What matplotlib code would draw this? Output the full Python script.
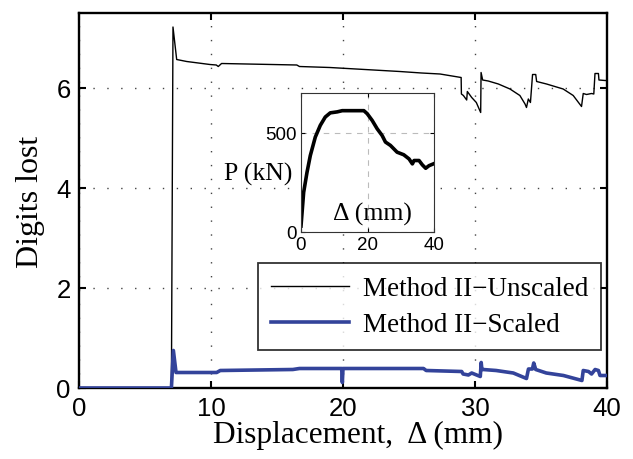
import matplotlib
matplotlib.use("Agg")
import matplotlib.pyplot as plt
from matplotlib.lines import Line2D

# ---- data ----
unscaled_x = [0, 7.0, 7.12, 7.4, 8.16, 9.92, 10.4, 10.55, 10.8, 16.5, 16.7, 19.0, 24.3, 25.95,
              27.35, 28.95, 28.97, 29.12, 29.37, 29.42, 29.75, 30.1, 30.43, 30.46, 30.58, 31.0,
              31.77, 32.65, 33.4, 33.79, 33.9, 34.04, 34.2, 34.36, 34.6, 34.67, 35.42, 36.68,
              37.44, 38.07, 38.2, 38.45, 38.83, 39.0, 39.09, 39.35, 39.39, 39.85, 40]
unscaled_y = [0, 0, 7.22, 6.57, 6.53, 6.47, 6.46, 6.43, 6.49, 6.46, 6.43, 6.41, 6.33, 6.30,
              6.28, 6.21, 5.88, 5.85, 5.76, 5.93, 5.81, 5.71, 5.51, 6.31, 6.16, 6.14,
              6.08, 5.98, 5.85, 5.68, 5.61, 5.78, 5.71, 6.27, 6.27, 6.13, 6.08, 5.98,
              5.85, 5.63, 5.89, 5.87, 5.89, 5.88, 6.29, 6.29, 6.16, 6.15, 6.15]

scaled_x = [0, 7.0, 7.15, 7.35, 10.43, 10.7, 16.2, 16.7, 19.9, 19.95, 20.0, 26.1, 26.3, 28.99,
            29.1, 29.5, 29.75, 30.4, 30.47, 30.52, 30.6, 31.6, 32.9, 33.9, 34.05, 34.35,
            34.45, 34.6, 35.4, 36.7, 38.1, 38.2, 38.6, 38.83, 39.1, 39.35, 39.47, 40]
scaled_y = [0, 0, 0.75, 0.31, 0.31, 0.35, 0.37, 0.39, 0.39, 0.11, 0.39, 0.39, 0.35, 0.33,
            0.28, 0.26, 0.30, 0.23, 0.51, 0.37, 0.37, 0.35, 0.30, 0.19, 0.38, 0.38,
            0.50, 0.37, 0.30, 0.25, 0.15, 0.35, 0.33, 0.28, 0.37, 0.35, 0.25, 0.25]

inset_delta = [0, 0.8, 1.8, 2.8, 4.3, 5.8, 7.3, 8.8, 10.9, 12.4, 14.9, 18.9, 19.9, 21.4, 22.9,
               24.4, 25.4, 26.9, 28.9, 30.9, 32.5, 33.5, 34.0, 35.5, 36.5, 37.5, 38.5, 39.8]
inset_P = [30, 200, 300, 385, 478, 537, 579, 600, 605, 611, 611, 611, 596, 562, 520,
           486, 453, 436, 402, 389, 368, 343, 360, 360, 338, 321, 334, 343]

x_ticks = [0, 10, 20, 30, 40]
y_ticks = [0, 2, 4, 6]
inset_x_ticks = [0, 20, 40]
inset_y_ticks = [0, 500]

label_unscaled = "Method II\u2212Unscaled"
label_scaled = "Method II\u2212Scaled"
blue = "#33439a"

serif = ["Liberation Serif", "DejaVu Serif"]
sans = ["Liberation Sans", "DejaVu Sans"]

fig = plt.figure(figsize=(6.33, 4.60), dpi=100)
ax = fig.add_axes([79/633, 1-389/460, 528/633, 375/460])

ax.plot(unscaled_x, unscaled_y, color="black", lw=1.0, zorder=3)
ax.plot(scaled_x, scaled_y, color=blue, lw=2.6, zorder=4)

ax.set_xlim(0, 40)
ax.set_ylim(0, 7.5)
ax.set_xticks(x_ticks)
ax.set_yticks(y_ticks)
ax.tick_params(direction="in", top=True, right=True, length=5, width=1.5, labelsize=18.5, pad=6)
for lab in ax.get_xticklabels() + ax.get_yticklabels():
    lab.set_family(sans)
ax.grid(True, linestyle=(0, (1, 9)), color="#444444", lw=1.0)
for s in ax.spines.values():
    s.set_linewidth(1.7)
ax.set_xlabel("Displacement,  \u0394 (mm)", family=serif, fontsize=22.5, labelpad=1)
ax.xaxis.set_label_coords(0.528, -0.085)
ax.set_ylabel("Digits lost", family=serif, fontsize=23, labelpad=8)

handles = [Line2D([], [], color="black", lw=1.0), Line2D([], [], color=blue, lw=2.6)]
leg = ax.legend(handles, [label_unscaled, label_scaled], loc="lower right",
                bbox_to_anchor=(601/633, 1-351/460), bbox_transform=fig.transFigure,
                prop={"family": serif, "size": 19.5}, frameon=True, fancybox=False,
                handlelength=2.9, handletextpad=0.5, borderpad=0.48, labelspacing=0.4,
                borderaxespad=0)
leg.get_frame().set_edgecolor("black")
leg.get_frame().set_linewidth(1.3)
leg.set_zorder(10)

# inset
ins = fig.add_axes([301/633, 1-233/460, 133/633, 139/460])
ins.plot(inset_delta, inset_P, color="black", lw=2.6)
ins.set_xlim(0, 40)
ins.set_ylim(0, 700)
ins.set_xticks(inset_x_ticks)
ins.set_yticks(inset_y_ticks)
ins.tick_params(direction="in", length=3, width=0.8, labelsize=13.5, pad=3, top=True, right=True)
for lab in ins.get_xticklabels() + ins.get_yticklabels():
    lab.set_family(sans)
ins.grid(True, linestyle=(0, (5, 5)), color="#bbbbbb", lw=0.8)
for s in ins.spines.values():
    s.set_linewidth(0.8)
    s.set_color("#333333")
ins.text(0.535, 0.13, "\u0394 (mm)", transform=ins.transAxes, ha="center", va="center",
         family=serif, fontsize=18.5)
ins.set_ylabel("P (kN)", family=serif, fontsize=18.5, rotation=0, va="center", ha="right")
ins.yaxis.set_label_coords(-0.065, 0.42)

fig.savefig("out.png", dpi=100)
